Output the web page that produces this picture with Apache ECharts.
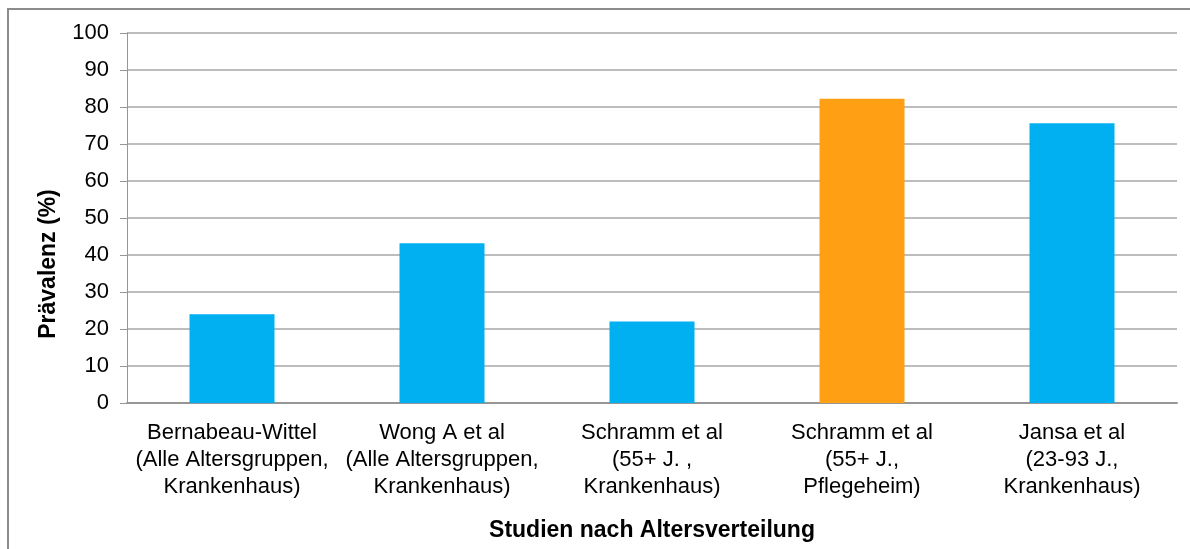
<!DOCTYPE html>
<html>
<head>
<meta charset="utf-8">
<script src="https://cdn.jsdelivr.net/npm/echarts@6/dist/echarts.min.js"></script>
<style>
    html, body { margin: 0; padding: 0; background: #fff; }
    #chart { width: 1190px; height: 549px; }
</style>
</head>
<body>
<div id="chart"></div>
<script>
    // Daten
    var studien = [
        'Bernabeau-Wittel\n(Alle Altersgruppen,\nKrankenhaus)',
        'Wong A et al\n(Alle Altersgruppen,\nKrankenhaus)',
        'Schramm et al\n(55+ J. ,\nKrankenhaus)',
        'Schramm et al\n(55+ J.,\nPflegeheim)',
        'Jansa et al\n(23-93 J.,\nKrankenhaus)'
    ];
    var praevalenz = [24, 43.2, 22, 82.2, 75.6];
    var hervorgehoben = [false, false, false, true, false];

    var blau = '#00B0F0';
    var orange = '#FF9F13';

    var chart = echarts.init(document.getElementById('chart'));
    chart.setOption({
        animation: false,
        textStyle: { fontFamily: 'Liberation Sans, Arial, sans-serif' },
        graphic: [
            {
                type: 'rect',
                shape: { x: 8, y: 9, width: 1300, height: 700 },
                style: { fill: 'none', stroke: '#8c8c8c', lineWidth: 2 },
                silent: true
            },
            {
                type: 'text',
                x: 49,
                y: 264,
                rotation: Math.PI / 2,
                style: {
                    text: 'Prävalenz (%)',
                    font: 'bold 23px "Liberation Sans", Arial, sans-serif',
                    fill: '#000',
                    align: 'center',
                    verticalAlign: 'middle'
                }
            }
        ],
        grid: { left: 127, right: 13, top: 33, bottom: 146 },
        xAxis: {
            type: 'category',
            data: studien,
            name: 'Studien nach Altersverteilung',
            nameLocation: 'middle',
            nameGap: 116,
            nameTextStyle: { fontSize: 23, fontWeight: 'bold', color: '#000' },
            axisLine: { lineStyle: { color: '#969696', width: 2 } },
            axisTick: { show: false },
            axisLabel: { color: '#000', fontSize: 22, lineHeight: 27, margin: 16, interval: 0 }
        },
        yAxis: {
            type: 'value',
            min: 0,
            max: 100,
            interval: 10,
            axisLine: { show: true, lineStyle: { color: '#969696', width: 1 } },
            axisTick: { show: true, length: 7, lineStyle: { color: '#969696' } },
            axisLabel: { color: '#000', fontSize: 22, margin: 18 },
            splitLine: { lineStyle: { color: '#bdbdbd', width: 2 } }
        },
        series: [{
            type: 'bar',
            barWidth: 85,
            data: praevalenz.map(function (v, i) {
                return {
                    value: v,
                    itemStyle: { color: hervorgehoben[i] ? orange : blau }
                };
            })
        }]
    });
</script>
</body>
</html>
